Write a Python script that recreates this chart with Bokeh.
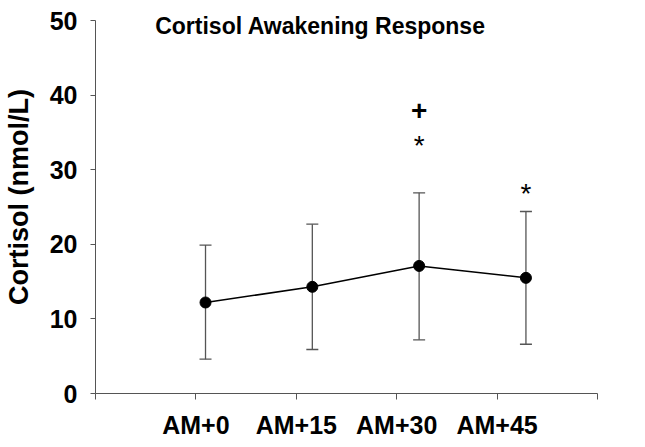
from bokeh.plotting import figure
from bokeh.models import (ColumnDataSource, Range1d, LinearAxis, FixedTicker,
                          Whisker, TeeHead, Label)
from bokeh.embed import file_html
from bokeh.resources import INLINE
from bokeh.core.properties import value, field

# ---- data ----
categories = ["AM+0", "AM+15", "AM+30", "AM+45"]
cortisol_mean = [12.2, 14.3, 17.1, 15.5]
cortisol_upper = [19.9, 22.7, 26.9, 24.4]
cortisol_lower = [4.6, 5.9, 7.2, 6.6]
annot_cat = [3, 3, 4]
annot_y = [37.9, 33.2, 26.8]
annot_text = ["+", "*", "*"]
annot_weight = ["bold", "normal", "normal"]
y_ticks = [0, 10, 20, 30, 40, 50]

pos = list(range(1, len(categories) + 1))
src = ColumnDataSource(dict(x=pos, y=cortisol_mean, up=cortisol_upper, lo=cortisol_lower))
asrc = ColumnDataSource(dict(x=annot_cat, y=annot_y, t=annot_text, s=annot_weight))

FONT = "Liberation Sans"
Y_MAX = y_ticks[-1]

p = figure(frame_width=502, frame_height=393, output_backend="svg", toolbar_location=None,
           x_range=Range1d(-0.03, 4.67), y_range=Range1d(0, Y_MAX * 393 / 373),
           x_axis_location=None, title=None,
           min_border_left=89, min_border_right=30, min_border_top=0, min_border_bottom=0)
p.outline_line_color = None
p.xgrid.grid_line_color = None
p.ygrid.grid_line_color = None
p.background_fill_color = "white"
p.border_fill_color = "white"

# category axis
p.extra_x_ranges = {"cat": Range1d(0, len(categories) + 1)}
xaxis = LinearAxis(x_range_name="cat")
xaxis.ticker = FixedTicker(ticks=list(range(0, len(categories) + 2)))
overrides = {0: "", len(categories) + 1: ""}
for i, c in enumerate(categories):
    overrides[i + 1] = c
xaxis.major_label_overrides = overrides
xaxis.axis_line_color = "#555555"
xaxis.major_tick_line_color = "#555555"
xaxis.major_tick_out = 6
xaxis.major_tick_in = 0
xaxis.minor_tick_line_color = None
xaxis.major_label_text_font = FONT
xaxis.major_label_text_font_style = "bold"
xaxis.major_label_text_font_size = "25px"
xaxis.major_label_text_color = "black"
xaxis.major_label_standoff = 11
p.add_layout(xaxis, "below")

ya = p.yaxis[0]
ya.ticker = FixedTicker(ticks=y_ticks)
ya.bounds = (0, Y_MAX)
ya.axis_line_color = "#555555"
ya.major_tick_line_color = "#555555"
ya.major_tick_out = 5
ya.major_tick_in = 0
ya.minor_tick_line_color = None
ya.major_label_text_font = FONT
ya.major_label_text_font_style = "bold"
ya.major_label_text_font_size = "25px"
ya.major_label_text_color = "black"
ya.major_label_standoff = 13
ya.axis_label = "Cortisol (nmol/L)"
ya.axis_label_text_font = FONT
ya.axis_label_text_font_style = "bold"
ya.axis_label_text_font_size = "27px"
ya.axis_label_text_color = "black"
ya.axis_label_standoff = 13

# error bars
w = Whisker(source=src, base="x", upper="up", lower="lo",
            line_color="#555555", line_width=1.3,
            upper_head=TeeHead(size=12, line_color="#555555", line_width=1.3),
            lower_head=TeeHead(size=12, line_color="#555555", line_width=1.3))
p.add_layout(w)

p.line("x", "y", source=src, line_color="black", line_width=1.5)
p.scatter("x", "y", source=src, size=11, fill_color="black", line_color="black")

p.text("x", "y", text="t", source=asrc, text_font=value(FONT), text_font_size="28px",
       text_font_style=field("s"),
       text_align="center", text_baseline="middle", text_color="black")

title = Label(x=225, y=368, x_units="screen", y_units="screen",
              text="Cortisol Awakening Response", text_font=FONT,
              text_font_style="bold", text_font_size="23px",
              text_align="center", text_baseline="middle", text_color="black")
p.add_layout(title)

open("out.html", "w").write(file_html(p, INLINE))
